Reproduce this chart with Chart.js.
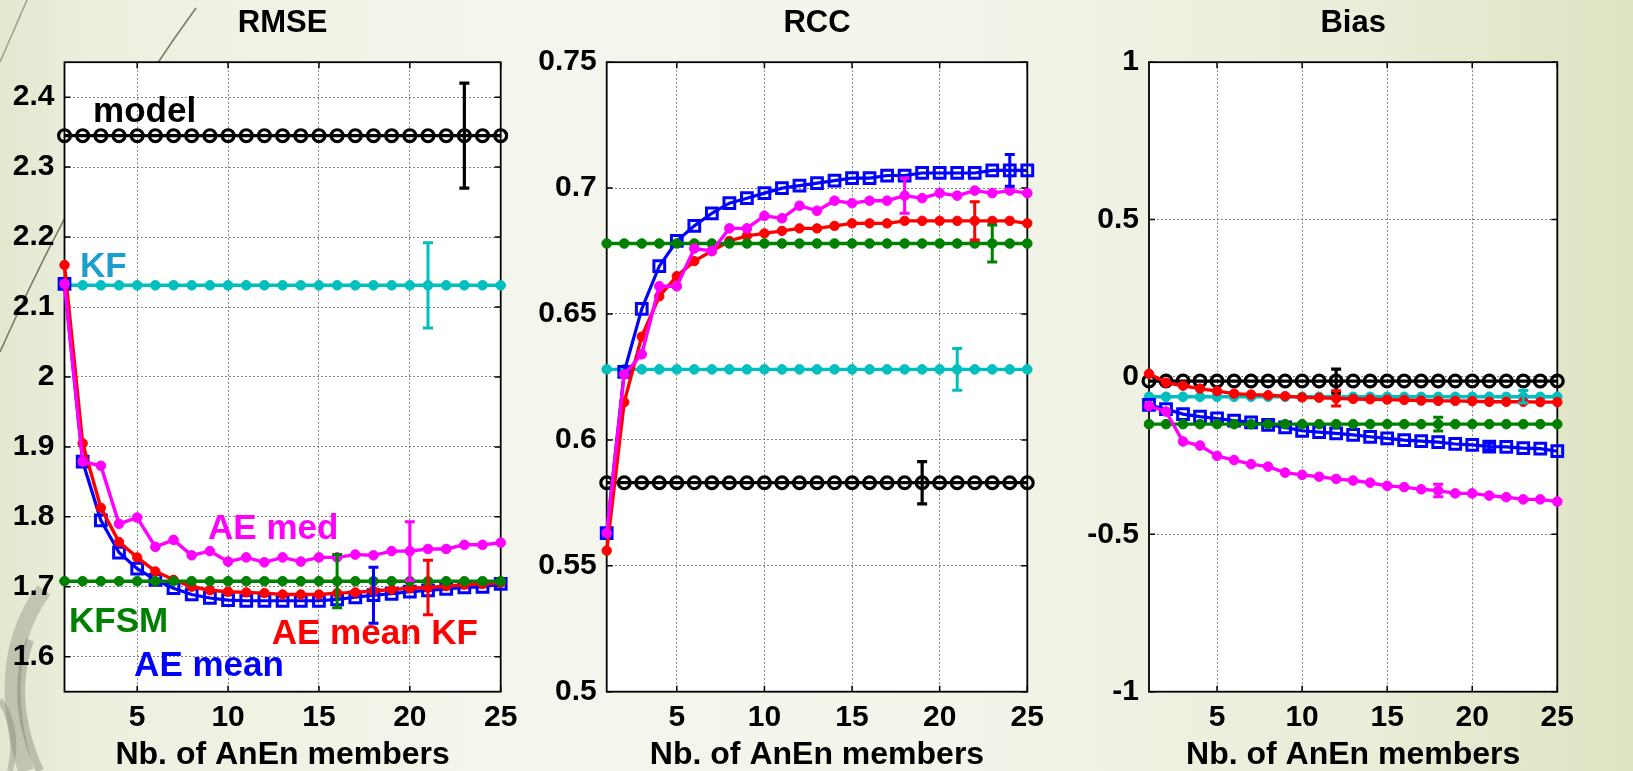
<!DOCTYPE html>
<html>
<head>
<meta charset="utf-8">
<script src="https://cdn.jsdelivr.net/npm/chart.js@4.4.1/dist/chart.umd.min.js"></script>
<style>
html,body{margin:0;padding:0;overflow:hidden;background:#eef0e2;}
#wrap{position:relative;width:1633px;height:771px;overflow:hidden;
  background:linear-gradient(90deg,#e3e7cf 0%,#edf0df 6%,#f4f5ec 30%,#f3f4ea 58%,#eaedd8 84%,#dde3c2 100%);}
#decor{position:absolute;left:0;top:0;}
canvas{position:absolute;top:0;}
</style>
</head>
<body>
<div id="wrap">
<svg id="decor" width="1633" height="771">
  <path d="M196,8 Q82,165 0,352" stroke="#7b7b68" stroke-width="1.6" fill="none"/>
  <path d="M0,62 L27,0" stroke="#9a9a88" stroke-width="1.4" fill="none"/>
  <path d="M44,590 Q-8,660 26,771" stroke="rgba(110,110,100,0.30)" stroke-width="16" fill="none"/>
  <path d="M30,640 Q8,700 40,771" stroke="rgba(90,90,80,0.30)" stroke-width="8" fill="none"/>
  <path d="M0,700 Q20,730 10,771" stroke="rgba(120,120,110,0.35)" stroke-width="6" fill="none"/>
</svg>
<canvas id="c1" width="531" height="771" style="left:0px;width:531px;height:771px"></canvas>
<canvas id="c2" width="527" height="771" style="left:531px;width:527px;height:771px"></canvas>
<canvas id="c3" width="575" height="771" style="left:1058px;width:575px;height:771px"></canvas>
</div>
<script>
// ---------------- data ----------------
const members = [1,2,3,4,5,6,7,8,9,10,11,12,13,14,15,16,17,18,19,20,21,22,23,24,25];
const xTicks = [5,10,15,20,25];
const seriesNames = ['model','KF','KFSM','AE mean','AE mean KF','AE med'];

// RMSE
const rmseModel = [2.345,2.345,2.345,2.345,2.345,2.345,2.345,2.345,2.345,2.345,2.345,2.345,2.345,2.345,2.345,2.345,2.345,2.345,2.345,2.345,2.345,2.345,2.345,2.345,2.345];
const rmseKF = [2.131,2.131,2.131,2.131,2.131,2.131,2.131,2.131,2.131,2.131,2.131,2.131,2.131,2.131,2.131,2.131,2.131,2.131,2.131,2.131,2.131,2.131,2.131,2.131,2.131];
const rmseKFSM = [1.708,1.708,1.708,1.708,1.708,1.708,1.708,1.708,1.708,1.708,1.708,1.708,1.708,1.708,1.708,1.708,1.708,1.708,1.708,1.708,1.708,1.708,1.708,1.708,1.708];
const rmseAEmean = [2.133,1.879,1.795,1.749,1.726,1.710,1.698,1.689,1.684,1.681,1.680,1.680,1.680,1.680,1.680,1.682,1.685,1.688,1.690,1.693,1.695,1.697,1.699,1.700,1.704];
const rmseAEmeanKF = [2.160,1.905,1.813,1.764,1.742,1.722,1.710,1.700,1.695,1.693,1.692,1.691,1.689,1.689,1.689,1.691,1.692,1.694,1.696,1.698,1.699,1.701,1.703,1.704,1.706];
const rmseAEmed = [2.133,1.879,1.873,1.790,1.799,1.757,1.767,1.745,1.751,1.736,1.742,1.735,1.742,1.736,1.742,1.742,1.746,1.745,1.751,1.751,1.754,1.754,1.760,1.760,1.763];
const rmseTicks = [1.6,1.7,1.8,1.9,2.0,2.1,2.2,2.3,2.4];
const rmseErrMember = [23,21,16,18,21,20];
const rmseErrHalf = [0.075,0.061,0.038,0.040,0.039,0.042];

// RCC
const rccModel = [0.583,0.583,0.583,0.583,0.583,0.583,0.583,0.583,0.583,0.583,0.583,0.583,0.583,0.583,0.583,0.583,0.583,0.583,0.583,0.583,0.583,0.583,0.583,0.583,0.583];
const rccKF = [0.628,0.628,0.628,0.628,0.628,0.628,0.628,0.628,0.628,0.628,0.628,0.628,0.628,0.628,0.628,0.628,0.628,0.628,0.628,0.628,0.628,0.628,0.628,0.628,0.628];
const rccKFSM = [0.678,0.678,0.678,0.678,0.678,0.678,0.678,0.678,0.678,0.678,0.678,0.678,0.678,0.678,0.678,0.678,0.678,0.678,0.678,0.678,0.678,0.678,0.678,0.678,0.678];
const rccAEmean = [0.563,0.627,0.652,0.669,0.679,0.685,0.690,0.694,0.696,0.698,0.700,0.701,0.702,0.703,0.704,0.704,0.705,0.705,0.706,0.706,0.706,0.706,0.707,0.707,0.707];
const rccAEmeanKF = [0.556,0.615,0.641,0.657,0.665,0.671,0.675,0.679,0.681,0.682,0.683,0.684,0.684,0.685,0.686,0.686,0.686,0.687,0.687,0.687,0.687,0.687,0.687,0.687,0.686];
const rccAEmed = [0.563,0.626,0.634,0.661,0.661,0.676,0.675,0.684,0.684,0.689,0.688,0.693,0.691,0.695,0.694,0.695,0.695,0.697,0.696,0.698,0.697,0.699,0.698,0.699,0.698];
const rccTicks = [0.5,0.55,0.6,0.65,0.7,0.75];
const rccErrMember = [19,21,23,24,22,18];
const rccErrHalf = [0.0084,0.0083,0.0073,0.0063,0.0076,0.0070];

// Bias
const biasModel = [-0.013,-0.013,-0.013,-0.013,-0.013,-0.013,-0.013,-0.013,-0.013,-0.013,-0.013,-0.013,-0.013,-0.013,-0.013,-0.013,-0.013,-0.013,-0.013,-0.013,-0.013,-0.013,-0.013,-0.013,-0.013];
const biasKF = [-0.063,-0.063,-0.063,-0.063,-0.063,-0.063,-0.063,-0.063,-0.063,-0.063,-0.063,-0.063,-0.063,-0.063,-0.063,-0.063,-0.063,-0.063,-0.063,-0.063,-0.063,-0.063,-0.063,-0.063,-0.063];
const biasKFSM = [-0.150,-0.150,-0.150,-0.150,-0.150,-0.150,-0.150,-0.150,-0.150,-0.150,-0.150,-0.150,-0.150,-0.150,-0.150,-0.150,-0.150,-0.150,-0.150,-0.150,-0.150,-0.150,-0.150,-0.150,-0.150];
const biasAEmean = [-0.089,-0.102,-0.118,-0.126,-0.132,-0.139,-0.144,-0.152,-0.160,-0.171,-0.175,-0.179,-0.184,-0.190,-0.195,-0.201,-0.204,-0.207,-0.213,-0.216,-0.221,-0.222,-0.226,-0.228,-0.236];
const biasAEmeanKF = [0.010,-0.018,-0.028,-0.037,-0.045,-0.053,-0.056,-0.058,-0.061,-0.065,-0.066,-0.068,-0.070,-0.071,-0.072,-0.073,-0.075,-0.076,-0.076,-0.077,-0.079,-0.079,-0.079,-0.080,-0.080];
const biasAEmed = [-0.092,-0.110,-0.205,-0.218,-0.251,-0.264,-0.277,-0.285,-0.304,-0.311,-0.317,-0.324,-0.329,-0.336,-0.346,-0.350,-0.357,-0.361,-0.370,-0.370,-0.377,-0.382,-0.389,-0.389,-0.396];
const biasTicks = [-1,-0.5,0,0.5,1];
const biasErrMember = [12,23,18,21,12,18];
const biasErrHalf = [0.038,0.020,0.022,0.010,0.024,0.020];

// RMSE in-plot labels (text, member, value)
const rmseLabelText = ['model','KF','AE med','KFSM','AE mean KF','AE mean'];
const rmseLabelAt = [[2.57,2.365],[1.85,2.143],[8.9,1.769],[1.25,1.635],[12.4,1.618],[4.83,1.573]];

// ---------------- styles ----------------
const FONT = "'Liberation Sans', Arial, Helvetica, sans-serif";
Chart.defaults.font.family = FONT;
Chart.defaults.font.weight = 'bold';
Chart.defaults.color = '#000';

const seriesStyles = [
  {color:'#000000', fill:'rgba(0,0,0,0)', point:'circle', radius:5.9, pbw:3.2, lw:3.2, order:5, ebw:3.2},
  {color:'#00bfbf', fill:'#00bfbf', point:'circle', radius:4.8, pbw:1, lw:3.4, order:4, ebw:3},
  {color:'#008000', fill:'#008000', point:'circle', radius:4.8, pbw:1, lw:3.4, order:1, ebw:3},
  {color:'#0000ff', fill:'rgba(0,0,0,0)', point:'rect', radius:7.6, pbw:3, lw:3.2, order:3, ebw:3},
  {color:'#ff0000', fill:'#ff0000', point:'circle', radius:4.7, pbw:1, lw:3.4, order:2, ebw:3},
  {color:'#ff00ff', fill:'#ff00ff', point:'circle', radius:4.8, pbw:1, lw:3.4, order:0, ebw:3}
];
const labelColors = ['#000000','#1b9fd0','#ff00ff','#008000','#ff0000','#0000ff'];

function fmt(v){ return String(Math.round(v*100)/100); }

function framePlugin(cfg){
  return {
    id:'frame_'+cfg.id,
    beforeDraw(chart){
      const {ctx, chartArea:a} = chart;
      ctx.save(); ctx.fillStyle='#ffffff';
      ctx.fillRect(a.left,a.top,a.right-a.left,a.bottom-a.top); ctx.restore();
    },
    beforeDatasetsDraw(chart){
      const {ctx, chartArea:a, scales} = chart;
      ctx.save();
      ctx.strokeStyle='#000'; ctx.lineWidth=1.8;
      ctx.strokeRect(a.left,a.top,a.right-a.left,a.bottom-a.top);
      ctx.lineWidth=1.5; ctx.beginPath();
      const tl=6;
      cfg.ticks.forEach(v=>{ const y=scales.y.getPixelForValue(v);
        ctx.moveTo(a.left,y); ctx.lineTo(a.left+tl,y); ctx.moveTo(a.right,y); ctx.lineTo(a.right-tl,y); });
      xTicks.forEach(v=>{ const x=scales.x.getPixelForValue(v);
        ctx.moveTo(x,a.top); ctx.lineTo(x,a.top+tl); ctx.moveTo(x,a.bottom); ctx.lineTo(x,a.bottom-tl); });
      ctx.stroke(); ctx.restore();
    },
    afterDatasetsDraw(chart){
      const {ctx, scales} = chart;
      ctx.save();
      cfg.errMember.forEach((m,i)=>{
        const st=seriesStyles[i];
        const v=cfg.values[i][members.indexOf(m)];
        const x=scales.x.getPixelForValue(m);
        const y1=scales.y.getPixelForValue(v+cfg.errHalf[i]);
        const y2=scales.y.getPixelForValue(v-cfg.errHalf[i]);
        ctx.strokeStyle=st.color; ctx.lineWidth=st.ebw; ctx.lineCap='butt';
        ctx.beginPath();
        ctx.moveTo(x,y1); ctx.lineTo(x,y2);
        ctx.moveTo(x-5,y1); ctx.lineTo(x+5,y1);
        ctx.moveTo(x-5,y2); ctx.lineTo(x+5,y2);
        ctx.stroke();
      });
      if (cfg.labels){
        ctx.font='bold 35px '+FONT; ctx.textAlign='left'; ctx.textBaseline='alphabetic';
        cfg.labels.text.forEach((t,i)=>{
          ctx.fillStyle=labelColors[i];
          const p=cfg.labels.at[i];
          ctx.fillText(t, scales.x.getPixelForValue(p[0]), scales.y.getPixelForValue(p[1]));
        });
      }
      ctx.restore();
    }
  };
}

function makeChart(cfg){
  const datasets = cfg.values.map((vals,i)=>{
    const st=seriesStyles[i];
    return {
      label: seriesNames[i],
      data: members.map((m,j)=>({x:m,y:vals[j]})),
      borderColor: st.color, backgroundColor: st.fill,
      borderWidth: st.lw, pointStyle: st.point, pointRadius: st.radius,
      pointBorderWidth: st.pbw, pointBackgroundColor: st.fill, pointBorderColor: st.color,
      order: st.order, clip: false, tension: 0, fill: false
    };
  });
  return new Chart(document.getElementById(cfg.id), {
    type:'line',
    data:{datasets},
    options:{
      responsive:false, animation:false, devicePixelRatio:1,
      layout:{padding:{left:0,right:cfg.padRight,top:0,bottom:0}},
      plugins:{
        legend:{display:false}, tooltip:{enabled:false},
        title:{display:true, text:cfg.title, color:'#000', fullSize:false,
          font:{size:31, weight:'bold', lineHeight:1.2}, padding:{top:5,bottom:20}}
      },
      scales:{
        x:{type:'linear', min:1, max:25,
          afterBuildTicks:s=>{ s.ticks = xTicks.map(v=>({value:v})); },
          afterFit:s=>{ s.height = 79.3; },
          grid:{color:'rgba(80,80,80,0.7)', lineWidth:1, drawTicks:false},
          border:{display:false, dash:[2,2]},
          ticks:{color:'#000', font:{size:30, weight:'bold'}, padding:8, maxRotation:0, autoSkip:false, callback:v=>fmt(v)},
          title:{display:true, text:'Nb. of AnEn members', color:'#000', font:{size:32, weight:'bold', lineHeight:1}, padding:{top:0,bottom:0}}
        },
        y:{type:'linear', min:cfg.ymin, max:cfg.ymax,
          afterBuildTicks:s=>{ s.ticks = cfg.ticks.map(v=>({value:v})); },
          afterFit:s=>{ s.width = cfg.yWidth; },
          grid:{color:'rgba(80,80,80,0.7)', lineWidth:1, drawTicks:false},
          border:{display:false, dash:[2,2]},
          ticks:{color:'#000', font:{size:30, weight:'bold'}, padding:10, autoSkip:false, callback:v=>fmt(v)}
        }
      }
    },
    plugins:[framePlugin(cfg)]
  });
}

makeChart({id:'c1', title:'RMSE', ymin:1.55, ymax:2.45, ticks:rmseTicks, yWidth:64.5, padRight:30.3,
  values:[rmseModel,rmseKF,rmseKFSM,rmseAEmean,rmseAEmeanKF,rmseAEmed],
  errMember:rmseErrMember, errHalf:rmseErrHalf,
  labels:{text:rmseLabelText, at:rmseLabelAt}});
makeChart({id:'c2', title:'RCC', ymin:0.5, ymax:0.75, ticks:rccTicks, yWidth:75.7, padRight:30.7,
  values:[rccModel,rccKF,rccKFSM,rccAEmean,rccAEmeanKF,rccAEmed],
  errMember:rccErrMember, errHalf:rccErrHalf});
makeChart({id:'c3', title:'Bias', ymin:-1, ymax:1, ticks:biasTicks, yWidth:91, padRight:75.7,
  values:[biasModel,biasKF,biasKFSM,biasAEmean,biasAEmeanKF,biasAEmed],
  errMember:biasErrMember, errHalf:biasErrHalf});
</script>
</body>
</html>
